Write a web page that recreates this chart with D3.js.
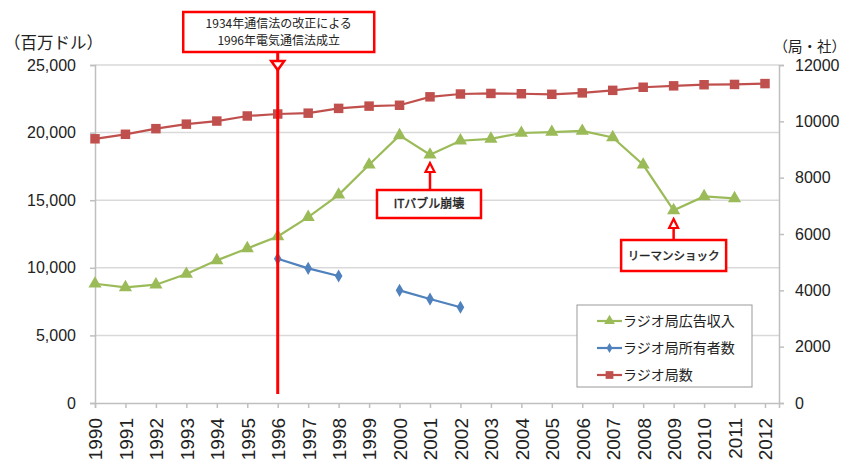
<!DOCTYPE html>
<html>
<head>
<meta charset="utf-8">
<script src="https://cdn.jsdelivr.net/npm/d3@7"></script>
<style>
html,body{margin:0;padding:0;background:#fff;}
svg{display:block;}
text{font-family:"Liberation Sans",Arial,sans-serif;}
.jp{font-family:"Noto Sans CJK JP","Liberation Sans",sans-serif;}
</style>
</head>
<body>
<svg id="chart" width="847" height="465"></svg>
<script>
const years = [1990,1991,1992,1993,1994,1995,1996,1997,1998,1999,2000,2001,2002,2003,2004,2005,2006,2007,2008,2009,2010,2011,2012];
const adRevenue = [8820,8550,8750,9540,10550,11430,12320,13750,15400,17620,19790,18360,19400,19530,19970,20040,20120,19640,17620,14250,15280,15130,null];
const owners = [null,null,null,null,null,null,5120,4780,4510,null,4000,3690,3400,null,null,null,null,null,null,null,null,null,null];
const stations = [9380,9540,9740,9900,10010,10190,10260,10290,10460,10540,10570,10870,10970,10990,10980,10960,11010,11100,11210,11260,11300,11310,11340];
const leftTicks = [0,5000,10000,15000,20000,25000];
const rightTicks = [0,2000,4000,6000,8000,10000,12000];
const seriesNames = ["ラジオ局広告収入","ラジオ局所有者数","ラジオ局数"];
const leftUnit = "（百万ドル）";
const rightUnit = "（局・社）";
const notes = [
  {year:1996, lines:["1934年通信法の改正による","1996年電気通信法成立"]},
  {year:2001, lines:["ITバブル崩壊"]},
  {year:2009, lines:["リーマンショック"]}
];

const svg = d3.select("#chart");
const L = 95, R = 779, T = 65, B = 403;
const x = d3.scaleLinear().domain([1990, 2012.46]).range([L, R]);
const yL = d3.scaleLinear().domain([0, 25000]).range([B, T]);
const yR = d3.scaleLinear().domain([0, 12000]).range([B, T]);

const green = "#9bbb59", blue = "#4f81bd", red = "#c0504d", alert = "#ff0000";

// gridlines
svg.append("g").selectAll("line").data(leftTicks.slice(1)).join("line")
  .attr("x1", L).attr("x2", R).attr("y1", d=>yL(d)).attr("y2", d=>yL(d))
  .attr("stroke", "#d9d9d9").attr("stroke-width", 1.5);

// left axis
const gl = svg.append("g").attr("transform", `translate(${L},0)`)
  .call(d3.axisLeft(yL).tickValues(leftTicks).tickFormat(d3.format(",")).tickSize(5).tickPadding(14));
gl.select(".domain").attr("stroke", "#bfbfbf").attr("stroke-width", 1.5);
gl.selectAll(".tick line").attr("stroke", "#bfbfbf").attr("stroke-width", 1.5);
gl.selectAll("text").attr("font-size", 16).attr("fill", "#222").attr("font-family", "Liberation Sans, Arial, sans-serif");

// right axis
const gr = svg.append("g").attr("transform", `translate(${R},0)`)
  .call(d3.axisRight(yR).tickValues(rightTicks).tickFormat(d3.format("d")).tickSize(5).tickPadding(11));
gr.select(".domain").attr("stroke", "#bfbfbf").attr("stroke-width", 1.5);
gr.selectAll(".tick line").attr("stroke", "#bfbfbf").attr("stroke-width", 1.5);
gr.selectAll("text").attr("font-size", 16).attr("fill", "#222").attr("font-family", "Liberation Sans, Arial, sans-serif");

// bottom axis
const gb = svg.append("g").attr("transform", `translate(0,${B})`)
  .call(d3.axisBottom(x).tickValues(years).tickFormat(d3.format("d")).tickSize(5));
gb.select(".domain").attr("stroke", "#bfbfbf").attr("stroke-width", 1.5);
gb.selectAll(".tick line").attr("stroke", "#bfbfbf").attr("stroke-width", 1.5);
gb.selectAll("text").attr("font-size", 19).attr("fill", "#222")
  .attr("font-family", "Liberation Sans, Arial, sans-serif")
  .attr("transform", "rotate(-90)").attr("text-anchor", "end")
  .attr("dy", "0.36em").attr("x", -15).attr("y", 0);

// unit labels
svg.append("text").attr("class","jp").attr("x", 4).attr("y", 49).attr("font-size", 16.5).attr("fill","#222").text(leftUnit);
svg.append("text").attr("class","jp").attr("x", 846).attr("y", 52).attr("text-anchor","end")
  .attr("font-size", 14.5).attr("fill","#222").text(rightUnit);

// series
function drawSeries(vals, yScale, color, shape, size) {
  const pts = years.map((yr,i)=>({yr, v: vals[i]}));
  const line = d3.line().defined(d=>d.v!=null).x(d=>x(d.yr)).y(d=>yScale(d.v));
  svg.append("path").datum(pts).attr("d", line).attr("fill","none")
    .attr("stroke", color).attr("stroke-width", 2.2);
  svg.append("g").selectAll("path").data(pts.filter(d=>d.v!=null)).join("path")
    .attr("d", d3.symbol().type(shape).size(size))
    .attr("transform", d=>`translate(${x(d.yr)},${yScale(d.v)})`)
    .attr("fill", color);
}
drawSeries(stations, yR, red, d3.symbolSquare, 90);
drawSeries(adRevenue, yL, green, d3.symbolTriangle, 75);
drawSeries(owners, yR, blue, d3.symbolDiamond, 50);

// annotations
function box(cx, y0, w, h, lines, fs, lh, heavy) {
  svg.append("rect").attr("x", cx - w/2).attr("y", y0).attr("width", w).attr("height", h)
    .attr("fill","#fff").attr("stroke", alert).attr("stroke-width", 2.5);
  lines.forEach((t,i)=>{
    const tx = svg.append("text").attr("class","jp").attr("x", cx)
      .attr("y", y0 + h/2 + (i - (lines.length-1)/2)*lh + fs*0.36)
      .attr("text-anchor","middle").attr("font-size", fs).attr("fill","#222").text(t);
    if (heavy) tx.attr("stroke", "#222").attr("stroke-width", 0.4);
  });
}
// 1996 annotation
const x96 = x(notes[0].year);
svg.append("line").attr("x1", x96).attr("x2", x96).attr("y1", 52).attr("y2", 394)
  .attr("stroke", alert).attr("stroke-width", 3);
svg.append("path").attr("d", `M${x96-6.5},61 L${x96+6.5},61 L${x96},70 Z`)
  .attr("fill","#fff").attr("stroke", alert).attr("stroke-width", 2.5);
box(x96 + 1, 12, 191, 40, notes[0].lines, 12, 17.5, false);

// IT bubble
const x01 = x(notes[1].year);
svg.append("line").attr("x1", x01).attr("x2", x01).attr("y1", 170).attr("y2", 190)
  .attr("stroke", alert).attr("stroke-width", 2.5);
svg.append("path").attr("d", `M${x01-4.5},172 L${x01+4.5},172 L${x01},163 Z`)
  .attr("fill","#fff").attr("stroke", alert).attr("stroke-width", 2.2);
box(x01 - 1, 190, 104, 28, notes[1].lines, 12, 16, true);

// Lehman
const x09 = x(notes[2].year);
svg.append("line").attr("x1", x09).attr("x2", x09).attr("y1", 227).attr("y2", 240)
  .attr("stroke", alert).attr("stroke-width", 2.5);
svg.append("path").attr("d", `M${x09-4.5},228 L${x09+4.5},228 L${x09},219 Z`)
  .attr("fill","#fff").attr("stroke", alert).attr("stroke-width", 2.2);
box(x09, 240, 105, 31, notes[2].lines, 11.5, 16, true);

// legend
const lg = svg.append("g");
lg.append("rect").attr("x", 577).attr("y", 305).attr("width", 175).attr("height", 82)
  .attr("fill","#fff").attr("stroke","#999").attr("stroke-width", 1);
const legItems = [
  {name: seriesNames[0], color: green, shape: d3.symbolTriangle, size: 50},
  {name: seriesNames[1], color: blue, shape: d3.symbolDiamond, size: 30},
  {name: seriesNames[2], color: red, shape: d3.symbolSquare, size: 60}
];
legItems.forEach((d,i)=>{
  const yy = 321 + i*27;
  lg.append("line").attr("x1", 597).attr("x2", 622).attr("y1", yy).attr("y2", yy)
    .attr("stroke", d.color).attr("stroke-width", 2.2);
  lg.append("path").attr("d", d3.symbol().type(d.shape).size(d.size)())
    .attr("transform", `translate(609.5,${yy})`).attr("fill", d.color);
  lg.append("text").attr("class","jp").attr("x", 623).attr("y", yy + 5)
    .attr("font-size", 14).attr("fill","#222").text(d.name);
});
</script>
</body>
</html>
